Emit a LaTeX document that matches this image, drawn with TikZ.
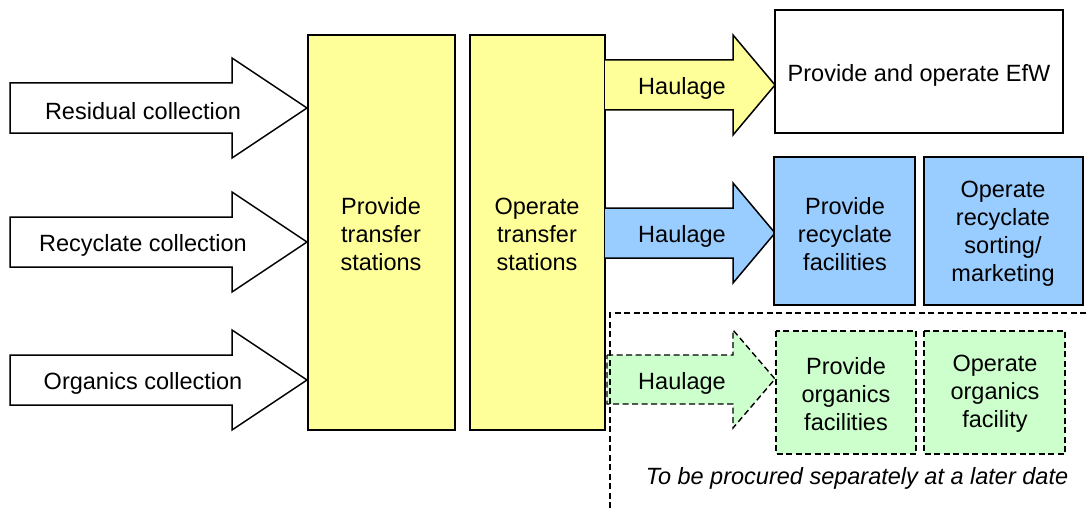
\documentclass[tikz,border=0pt]{standalone}
\usepackage{fontspec}
\setmainfont{Liberation Sans}
\definecolor{paleyellow}{HTML}{FFFF99}
\definecolor{paleblue}{HTML}{99CCFF}
\definecolor{palegreen}{HTML}{CCFFCC}
\tikzset{
	block/.style={draw, line width=1.5pt},
	later/.style={draw, line width=1.4pt, dash pattern=on 6pt off 3.5pt},
	lbl/.style={align=center, font=\fontsize{23.5}{28}\selectfont, inner sep=0pt}
}
\begin{document}
\begin{tikzpicture}[x=1pt,y=-1pt]
	\useasboundingbox (0,0) rectangle (1086,508);
	% collection arrows
	\draw [block, fill=white] (10,83) -- (232,83) -- (232,58) -- (307,108) -- (232,158) -- (232,133) -- (10,133) -- cycle;
	\draw [block, fill=white] (10,217) -- (232,217) -- (232,192) -- (307,242) -- (232,292) -- (232,267) -- (10,267) -- cycle;
	\draw [block, fill=white] (10,355) -- (232,355) -- (232,330) -- (307,380) -- (232,430) -- (232,405) -- (10,405) -- cycle;
	\node [lbl] (res) at (143,111) {Residual collection};
	\node [lbl] (rec) at (143,245) {Recyclate collection};
	\node [lbl] (org) at (143,383) {Organics collection};
	
	% transfer stations
	\draw [block, fill=paleyellow] (308,35) rectangle (455,430);
	\draw [block, fill=paleyellow] (470,35) rectangle (605,430);
	\node [lbl] (provts) at (381,234) {Provide\\transfer\\stations};
	\node [lbl] (opts) at (537,234) {Operate\\transfer\\stations};
	
	% haulage
	\draw [block, fill=paleyellow] (605,60) -- (733,60) -- (733,35) -- (775,85) -- (733,135) -- (733,110) -- (605,110);
	\draw [block, fill=paleblue] (605,208) -- (733,208) -- (733,183) -- (775,233) -- (733,283) -- (733,258) -- (605,258);
	\draw [later, fill=palegreen] (607,355) -- (733,355) -- (733,330) -- (775,379) -- (733,428) -- (733,404) -- (607,404) -- cycle;
	\node [lbl] (haulres) at (682,88) {Haulage};
	\node [lbl] (haulrec) at (682,236) {Haulage};
	\node [lbl] (haulorg) at (682,383) {Haulage};
	
	% facilities
	\draw [block, fill=white] (775,10) rectangle (1063,133);
	\node [lbl] (efw) at (919,75) {Provide and operate EfW};
	\draw [block, fill=paleblue] (774,157) rectangle (915,305);
	\draw [block, fill=paleblue] (924,157) rectangle (1083,305);
	\node [lbl] (provrec) at (845,234) {Provide\\recyclate\\facilities};
	\node [lbl] (oprec) at (1003,234) {Operate\\recyclate\\sorting/\\marketing};
	\draw [later, fill=palegreen] (776,331) rectangle (916,454);
	\draw [later, fill=palegreen] (924,331) rectangle (1065,454);
	\node [lbl] (provorg) at (846,394) {Provide\\organics\\facilities};
	\node [lbl] (oporg) at (995,394) {Operate\\organics\\facility};
	
	% later procurement
	\draw [later] (610,508) -- (610,313) -- (1086,313);
	\node [lbl, font=\fontsize{23.5}{28}\selectfont\itshape] (note) at (857,478) {To be procured separately at a later date};
\end{tikzpicture}
\end{document}
